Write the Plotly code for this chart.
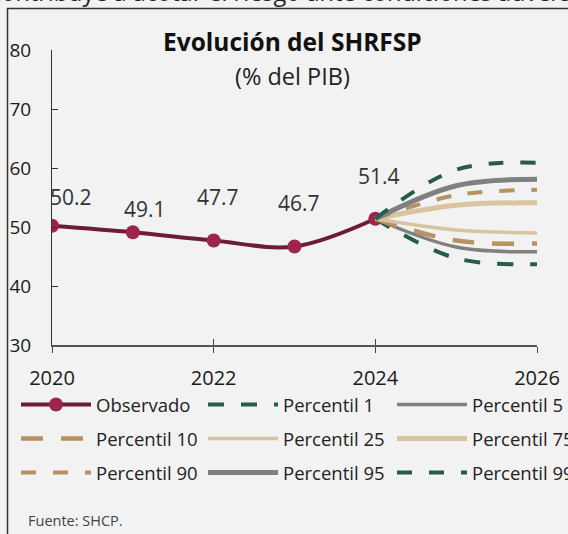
import plotly.graph_objects as go

# ---- data ----
obs_years = [2020, 2021, 2022, 2023, 2024]
obs_values = [50.2, 49.1, 47.7, 46.7, 51.4]
obs_labels = ["50.2", "49.1", "47.7", "46.7", "51.4"]

fan_years = [2024, 2025, 2026]
p1 = [51.4, 44.7, 43.7]
p5 = [51.4, 46.6, 45.8]
p10 = [51.4, 47.7, 47.2]
p25 = [51.4, 49.5, 49.0]
p75 = [51.4, 53.7, 54.1]
p90 = [51.4, 55.4, 56.3]
p95 = [51.4, 57.0, 58.1]
p99 = [51.4, 59.7, 60.9]

x_ticks = [2020, 2022, 2024, 2026]
y_ticks = [30, 40, 50, 60, 70, 80]

# ---- styles ----
FONT = "Open Sans"
BG = "#f2f2f2"
MAROON = "#6b1c38"
CRIMSON = "#9f2449"
GREEN = "#255c4c"
GRAY = "#808080"
TAN = "#b5925f"
LTAN = "#d8c49f"

# plot-area geometry in pixels (for converting layout positions)
L, R, T, B = 52, 537, 50, 345
W, H = R - L, B - T


def px_x(p):
    return (p - L) / W


def px_y(p):
    return (B - p) / H


# per-label offsets (px) for the observed data labels
label_dx = [19, 12, 4, 4, 4]
label_dy = [29, 23, 44, 43, 43]

# legend slots: (column x px, row y px)
col_px = [16, 203, 392]
row_px = [405, 439, 473]

fig = go.Figure()

fig.add_trace(go.Scatter(
    x=obs_years, y=obs_values, name="Observado", mode="lines+markers",
    line=dict(color=MAROON, width=4, shape="spline"),
    marker=dict(color=CRIMSON, size=14),
    legend="legend",
))

fan = [
    ("Percentil 1", p1, GREEN, 4, "16px,17px"),
    ("Percentil 5", p5, GRAY, 3.5, "solid"),
    ("Percentil 10", p10, TAN, 4.5, "22px,18px"),
    ("Percentil 25", p25, LTAN, 3.5, "solid"),
    ("Percentil 75", p75, LTAN, 5, "solid"),
    ("Percentil 90", p90, TAN, 4, "15px,17px"),
    ("Percentil 95", p95, GRAY, 5, "solid"),
    ("Percentil 99", p99, GREEN, 4, "15px,17px"),
]
for i, (name, vals, col, w, dash) in enumerate(fan, start=2):
    fig.add_trace(go.Scatter(
        x=fan_years, y=vals, name=name, mode="lines",
        line=dict(color=col, width=w, dash=dash, shape="spline"),
        legend=f"legend{i}",
    ))

# data labels
for xv, yv, txt, dx, dy in zip(obs_years, obs_values, obs_labels, label_dx, label_dy):
    fig.add_annotation(x=xv, y=yv, text=txt, showarrow=False, xshift=dx, yshift=dy,
                       font=dict(family=FONT, size=21, color="#333333"))

# cut-off text at top
fig.add_annotation(xref="paper", yref="paper", x=px_x(-12), xanchor="left",
                   y=px_y(-8), yanchor="middle",
                   text="contribuye a acotar el riesgo ante condiciones adversas",
                   showarrow=False, font=dict(family=FONT, size=23.5, color="#222222"))

# title and subtitle
fig.add_annotation(xref="paper", yref="paper", x=px_x(292), y=px_y(42), yanchor="middle",
                   text="<b>Evolución del SHRFSP</b>", showarrow=False,
                   font=dict(family=FONT, size=24.5, color="#111111"))
fig.add_annotation(xref="paper", yref="paper", x=px_x(292), y=px_y(76), yanchor="middle",
                   text="(% del PIB)", showarrow=False,
                   font=dict(family=FONT, size=23.5, color="#222222"))

# source
fig.add_annotation(xref="paper", yref="paper", x=px_x(26), xanchor="left",
                   y=px_y(520), yanchor="middle",
                   text="Fuente: SHCP.", showarrow=False,
                   font=dict(family=FONT, size=14.5, color="#444444"))

# frame
fig.add_shape(type="rect", xref="paper", yref="paper",
              x0=px_x(7.5), x1=px_x(590), y0=px_y(560), y1=px_y(8.5),
              line=dict(color="#333333", width=1.5), fillcolor="rgba(0,0,0,0)", layer="below")

legend_layout = {}
for k in range(9):
    key = "legend" if k == 0 else f"legend{k + 1}"
    legend_layout[key] = dict(
        orientation="h", xref="paper", yref="paper",
        x=px_x(col_px[k % 3]), y=px_y(row_px[k // 3]),
        xanchor="left", yanchor="middle",
        bgcolor="rgba(0,0,0,0)", itemwidth=70,
        font=dict(family=FONT, size=18.5, color="#222222"),
    )

fig.update_layout(
    width=568, height=534,
    margin=dict(l=L, r=568 - R, t=T, b=534 - B, autoexpand=False),
    paper_bgcolor=BG, plot_bgcolor=BG,
    font=dict(family=FONT, size=18, color="#1a1a1a"),
    showlegend=True,
    xaxis=dict(range=[2020, 2026], tickvals=x_ticks, ticks="outside", ticklen=6,
               tickcolor="#444444", showline=True, linecolor="#555555", linewidth=1.5,
               showgrid=False, zeroline=False, ticklabelstandoff=8,
               tickfont=dict(family=FONT, size=20, color="#1a1a1a")),
    xaxis2=dict(range=[2020, 2026], tickvals=x_ticks, ticks="inside", ticklen=6,
                tickcolor="#444444", overlaying="x", anchor="y", showticklabels=False,
                showgrid=False, zeroline=False, showline=False),
    yaxis=dict(range=[30, 80], tickvals=y_ticks, ticks="inside", ticklen=6,
               tickcolor="#333333", showline=True, linecolor="#333333", linewidth=1,
               showgrid=False, zeroline=False, ticklabelstandoff=16,
               tickfont=dict(family=FONT, size=19, color="#1a1a1a")),
    **legend_layout,
)
# dummy trace to activate xaxis2 ticks
fig.add_trace(go.Scatter(x=[2020], y=[None], xaxis="x2", yaxis="y", showlegend=False,
                         hoverinfo="skip"))

fig.write_html("out.html",
               config={"displayModeBar": False},
               post_script="document.body.style.margin='0';"
                           "document.body.style.overflow='hidden';")
